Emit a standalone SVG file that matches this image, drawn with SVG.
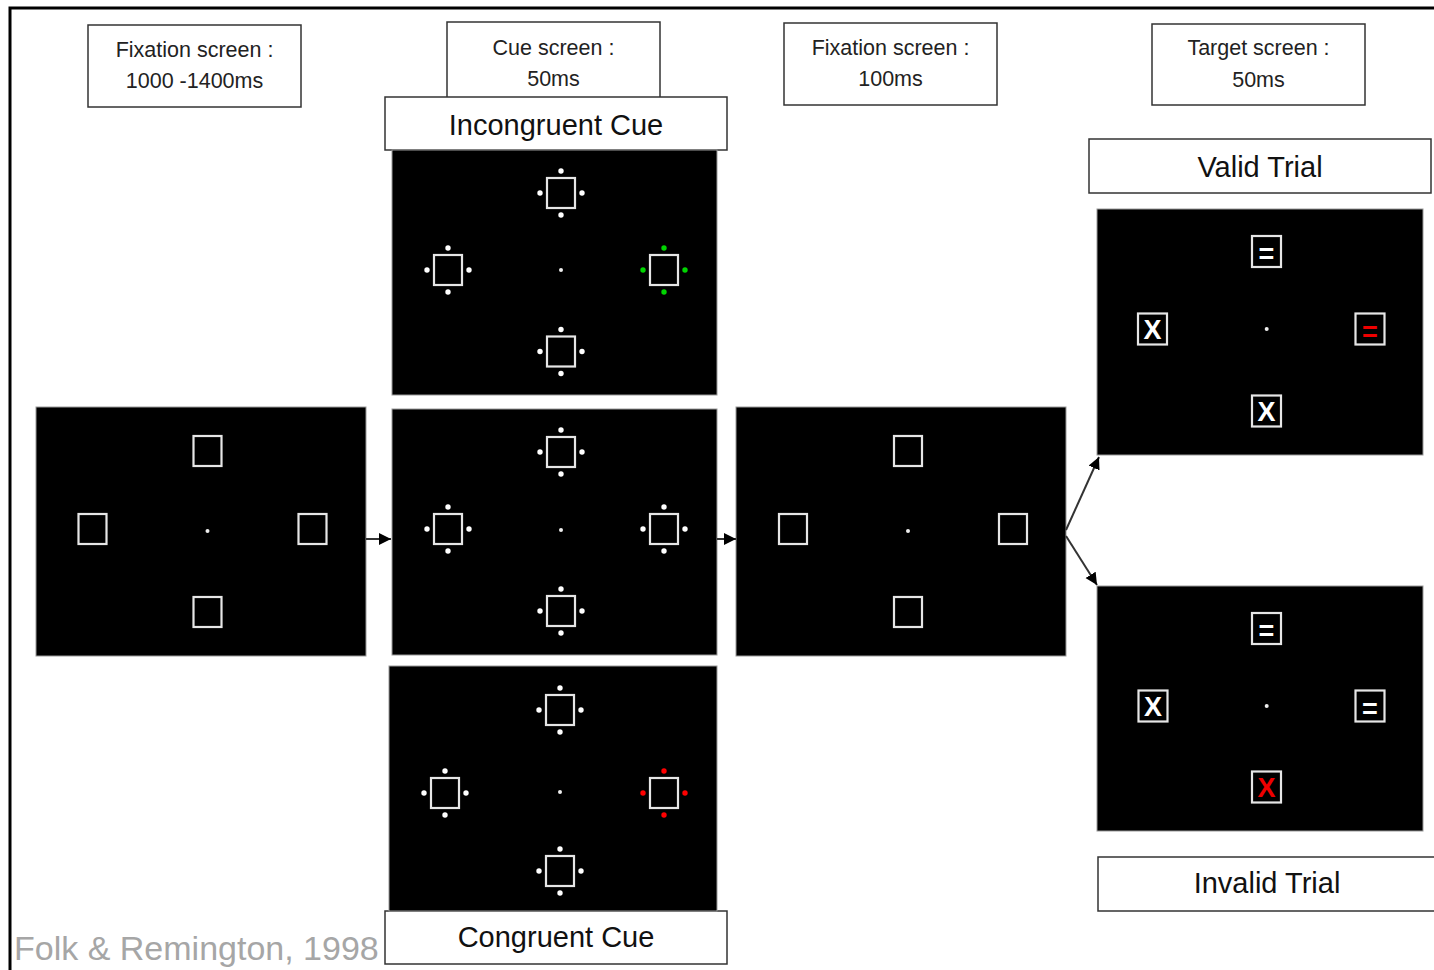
<svg xmlns="http://www.w3.org/2000/svg" xmlns:xlink="http://www.w3.org/1999/xlink" width="1434" height="970" viewBox="0 0 1434 970">
<style>
.box{fill:#fff;stroke:#333;stroke-width:1.5}
.t{font-family:"Liberation Sans",Arial,sans-serif;font-size:21.5px;fill:#222;text-anchor:middle}
.big{font-family:"Liberation Sans",Arial,sans-serif;font-size:29px;fill:#111;text-anchor:middle}
.scr{fill:#000;stroke:#999;stroke-width:1}
.sq{fill:none;stroke:#e6e6e6;stroke-width:2.2}
.fix{fill:#eee}
.sym{font-family:"Liberation Sans",Arial,sans-serif;font-weight:bold;font-size:27px;text-anchor:middle}
.conn{stroke:#333;stroke-width:2;fill:none}
</style>
<defs>
<marker id="ah" markerUnits="userSpaceOnUse" markerWidth="14" markerHeight="14" refX="12" refY="6" orient="auto">
<path d="M0,0 L12,6 L0,12 z" fill="#000"/>
</marker>
<rect id="sq" class="sq" x="-14" y="-15" width="28" height="30"/>
<g id="dots"><circle cx="0" cy="-22" r="2.7"/><circle cx="0" cy="22" r="2.7"/><circle cx="-21" cy="0" r="2.7"/><circle cx="21" cy="0" r="2.7"/></g>
<g id="cue"><use xlink:href="#sq"/><use xlink:href="#dots"/></g>
<rect id="tsq" class="sq" x="-14.5" y="-15.5" width="29" height="31"/>
</defs>

<g id="frame"><path d="M10,970 L10,8 L1434,8" fill="none" stroke="#000" stroke-width="3"/></g>

<g id="label-fix1"><rect class="box" x="88" y="25" width="213" height="82"/><text class="t" x="194.5" y="57">Fixation screen :</text><text class="t" x="194.5" y="88">1000 -1400ms</text></g>
<g id="label-cue"><rect class="box" x="447" y="22" width="213" height="80"/><text class="t" x="553.5" y="55">Cue screen :</text><text class="t" x="553.5" y="86">50ms</text></g>
<g id="label-fix2"><rect class="box" x="784" y="23" width="213" height="82"/><text class="t" x="890.5" y="55">Fixation screen :</text><text class="t" x="890.5" y="86">100ms</text></g>
<g id="label-target"><rect class="box" x="1152" y="24" width="213" height="81"/><text class="t" x="1258.5" y="55">Target screen :</text><text class="t" x="1258.5" y="87">50ms</text></g>

<g id="label-incongruent"><rect class="box" x="385" y="97" width="342" height="53"/><text class="big" x="556" y="135">Incongruent Cue</text></g>
<g id="label-valid"><rect class="box" x="1089" y="139" width="342" height="54"/><text class="big" x="1260" y="177">Valid Trial</text></g>
<g id="label-invalid"><path class="box" d="M1440,857 L1098,857 L1098,911 L1440,911"/><text class="big" x="1267" y="893">Invalid Trial</text></g>
<g id="label-congruent"><rect class="box" x="385" y="911" width="342" height="53"/><text class="big" x="556" y="947">Congruent Cue</text></g>

<g id="fixation1">
<rect class="scr" x="36" y="407" width="330" height="249"/>
<use xlink:href="#sq" x="207.5" y="451"/><use xlink:href="#sq" x="92.5" y="529"/><use xlink:href="#sq" x="312.5" y="529"/><use xlink:href="#sq" x="207.5" y="612"/>
<circle class="fix" cx="207.5" cy="531" r="2"/>
</g>

<g id="cue-incongruent" fill="#fff">
<rect class="scr" x="392" y="150" width="325" height="245"/>
<use xlink:href="#cue" x="561" y="193"/><use xlink:href="#cue" x="448" y="270"/><use xlink:href="#sq" x="664" y="270"/><use xlink:href="#dots" x="664" y="270" fill="#00d400"/><use xlink:href="#cue" x="561" y="351.5"/>
<circle class="fix" cx="561" cy="270" r="2"/>
</g>

<g id="cue-neutral" fill="#fff">
<rect class="scr" x="392" y="409" width="325" height="246"/>
<use xlink:href="#cue" x="561" y="452"/><use xlink:href="#cue" x="448" y="529"/><use xlink:href="#cue" x="664" y="529"/><use xlink:href="#cue" x="561" y="611"/>
<circle class="fix" cx="561" cy="530" r="2"/>
</g>

<g id="cue-congruent" fill="#fff">
<rect class="scr" x="389" y="666" width="328" height="245"/>
<use xlink:href="#cue" x="560" y="710"/><use xlink:href="#cue" x="445" y="793"/><use xlink:href="#sq" x="664" y="793"/><use xlink:href="#dots" x="664" y="793" fill="#f00"/><use xlink:href="#cue" x="560" y="871"/>
<circle class="fix" cx="560" cy="792" r="2"/>
</g>

<g id="fixation2">
<rect class="scr" x="736" y="407" width="330" height="249"/>
<use xlink:href="#sq" x="908" y="451"/><use xlink:href="#sq" x="793" y="529"/><use xlink:href="#sq" x="1013" y="529"/><use xlink:href="#sq" x="908" y="612"/>
<circle class="fix" cx="908" cy="531" r="2"/>
</g>

<g id="target-valid">
<rect class="scr" x="1097" y="209" width="326" height="246"/>
<use xlink:href="#tsq" x="1266.5" y="251.5"/><text class="sym" x="1266.5" y="263" fill="#fff">=</text>
<use xlink:href="#tsq" x="1152.5" y="329"/><text class="sym" x="1152.5" y="339" fill="#fff">X</text>
<use xlink:href="#tsq" x="1370" y="329"/><text class="sym" x="1370" y="340.5" fill="#e00">=</text>
<use xlink:href="#tsq" x="1266.5" y="411"/><text class="sym" x="1266.5" y="421" fill="#fff">X</text>
<circle class="fix" cx="1266.7" cy="329" r="2"/>
</g>

<g id="target-invalid">
<rect class="scr" x="1097" y="586" width="326" height="245"/>
<use xlink:href="#tsq" x="1266.5" y="628.5"/><text class="sym" x="1266.5" y="640" fill="#fff">=</text>
<use xlink:href="#tsq" x="1153" y="706"/><text class="sym" x="1153" y="716" fill="#fff">X</text>
<use xlink:href="#tsq" x="1370" y="706"/><text class="sym" x="1370" y="717.5" fill="#fff">=</text>
<use xlink:href="#tsq" x="1266.5" y="787"/><text class="sym" x="1266.5" y="797" fill="#e00">X</text>
<circle class="fix" cx="1266.7" cy="706" r="2"/>
</g>

<g id="connectors">
<line class="conn" x1="366" y1="539" x2="391" y2="539" marker-end="url(#ah)"/>
<line class="conn" x1="717" y1="539" x2="736" y2="539" marker-end="url(#ah)"/>
<line class="conn" x1="1066" y1="530" x2="1099" y2="457" marker-end="url(#ah)"/>
<line class="conn" x1="1066" y1="536" x2="1097" y2="585" marker-end="url(#ah)"/>
</g>

<text x="14" y="960" font-family="Liberation Sans,Arial,sans-serif" font-size="34" fill="#a6a6a6">Folk &amp; Remington, 1998</text>
</svg>
